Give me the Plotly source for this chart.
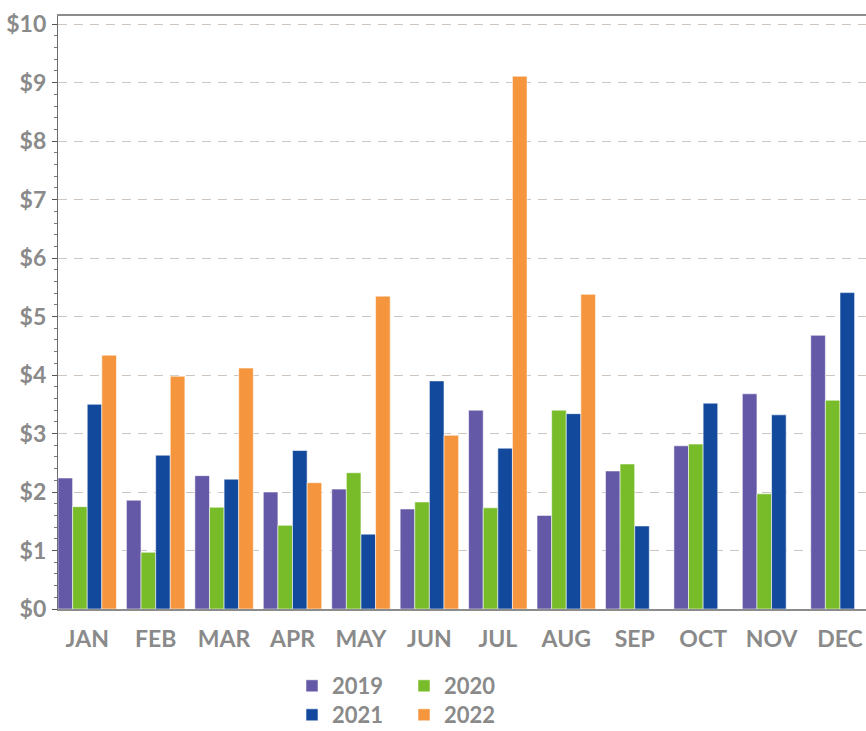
import plotly.graph_objects as go

months = ["JAN", "FEB", "MAR", "APR", "MAY", "JUN", "JUL", "AUG", "SEP", "OCT", "NOV", "DEC"]

v2019 = [2.24, 1.86, 2.28, 2.00, 2.05, 1.71, 3.40, 1.60, 2.36, 2.79, 3.68, 4.68]
v2020 = [1.75, 0.97, 1.74, 1.43, 2.33, 1.83, 1.73, 3.40, 2.48, 2.82, 1.97, 3.57]
v2021 = [3.50, 2.63, 2.22, 2.71, 1.28, 3.90, 2.75, 3.34, 1.42, 3.52, 3.32, 5.41]
v2022 = [4.34, 3.98, 4.12, 2.16, 5.35, 2.97, 9.11, 5.38, None, None, None, None]

y_ticks = list(range(0, 11))
y_labels = ["$" + str(v) for v in y_ticks]

series = [
    ("2019", v2019, "#6359A6", "legend"),
    ("2020", v2020, "#78BC2A", "legend"),
    ("2021", v2021, "#13499C", "legend2"),
    ("2022", v2022, "#F5953E", "legend2"),
]

x = list(range(len(months)))

fig = go.Figure()
for name, vals, color, leg in series:
    fig.add_trace(go.Bar(
        x=x, y=vals, name=name, legend=leg,
        marker=dict(color=color, line=dict(color="rgba(255,255,255,0.55)", width=1)),
    ))

FONT = "Lato, 'Open Sans', sans-serif"
label_font = dict(family=FONT, size=23, color="#8a8a8a", weight="bold")
legend_font = dict(family=FONT, size=22, color="#8a8a8a", weight="bold")

fig.update_layout(
    width=866, height=731,
    margin=dict(l=58, r=0, t=16, b=122),
    paper_bgcolor="white", plot_bgcolor="white",
    barmode="group", bargap=0.146, bargroupgap=0,
    font=label_font,
    legend=dict(
        orientation="h", xref="container", yref="container",
        x=292 / 866, y=1 - 686 / 731, xanchor="left", yanchor="middle",
        entrywidth=67, font=legend_font, tracegroupgap=0,
        bgcolor="rgba(0,0,0,0)",
    ),
    legend2=dict(
        orientation="h", xref="container", yref="container",
        x=292 / 866, y=1 - 715 / 731, xanchor="left", yanchor="middle",
        entrywidth=67, font=legend_font, tracegroupgap=0,
        bgcolor="rgba(0,0,0,0)",
    ),
    xaxis=dict(
        tickvals=x, ticktext=months, range=[-0.427, 11.38],
        showline=True, linecolor="#8c8c8c", linewidth=1.5, mirror=True,
        showgrid=False, ticks="", ticklabelstandoff=9,
        tickfont=label_font, zeroline=False,
    ),
    yaxis=dict(
        range=[0, 10.14], tickvals=y_ticks, ticktext=y_labels,
        showline=True, linecolor="#6e6e6e", linewidth=1.2,
        ticks="outside", ticklen=5, tickcolor="#555555", tickwidth=1,
        minor=dict(dtick=0.2, ticks="outside", ticklen=3, tickcolor="#777777", showgrid=False),
        showgrid=True, gridcolor="#cfc7bf", gridwidth=1, griddash="9px,7px",
        zeroline=False, tickfont=label_font, ticklabelstandoff=1,
    ),
)

fig.write_html("out.html")
